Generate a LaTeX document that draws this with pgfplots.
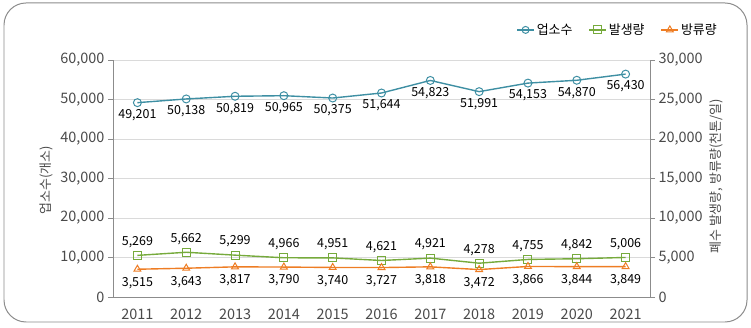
\documentclass[border=0pt]{standalone}
\usepackage{pgfplots}
\pgfplotsset{compat=1.18}
\usepackage{fontspec}
\setmainfont{Noto Sans CJK KR}
\definecolor{cA}{HTML}{3E8FA3}
\definecolor{cB}{HTML}{76AA3C}
\definecolor{cC}{HTML}{EE7D24}
\definecolor{tk}{HTML}{4A4A4A}
\definecolor{gl}{HTML}{DADADA}
\definecolor{ax}{HTML}{8C8C8C}
\pgfplotstableread{
x y
0 49201
1 50138
2 50819
3 50965
4 50375
5 51644
6 54823
7 51991
8 54153
9 54870
10 56430
}\shops
\pgfplotstableread{
x y
0 5269
1 5662
2 5299
3 4966
4 4951
5 4621
6 4921
7 4278
8 4755
9 4842
10 5006
}\gen
\pgfplotstableread{
x y
0 3515
1 3643
2 3817
3 3790
4 3740
5 3727
6 3818
7 3472
8 3866
9 3844
10 3849
}\dis
\pgfplotsset{
  common/.style={
    at={(113bp,31bp)}, anchor=south west,
    scale only axis, width=537bp, height=237bp,
    xmin=-0.5, xmax=10.5,
    /pgf/number format/assume math mode=true,
    /pgf/number format/1000 sep={,},
    tick align=outside, major tick length=5bp,
    every tick/.style={ax, line width=0.6pt},
    axis line style={ax, line width=0.8pt},
    tick label style={font=\fontsize{14.5}{16}\selectfont, text=tk},
    label style={font=\fontsize{13}{15}\selectfont, text=tk},
  },
  lbl/.style={nodes near coords, every node near coord/.append style={font=\fontsize{12.5}{14}\selectfont, text=black, /pgf/number format/1000 sep={,}}},
}
\begin{document}
\begin{tikzpicture}
\useasboundingbox (0,0) rectangle (751bp,328bp);
\draw[ax, line width=1pt, rounded corners=22bp] (4bp,6bp) rectangle (747bp,325bp);
\begin{axis}[common,
  ymin=0, ymax=60000, ytick={0,10000,...,60000},
  axis x line*=bottom, axis y line*=left,
  xtick={0,...,10}, xticklabels={2011,2012,2013,2014,2015,2016,2017,2018,2019,2020,2021},
  x tick style={draw=none},
  xticklabel style={yshift=-3bp},
  ymajorgrids, grid style={gl, line width=0.6pt},
  ylabel={업소수(개소)}, ylabel style={at={(ticklabel cs:0.5)}, xshift=-2bp},
  scaled y ticks=false,
]
\addplot[cA, line width=1.4pt, mark=o, mark size=4pt, mark options={fill=white, line width=1pt},
  lbl, nodes near coords align={below}, every node near coord/.append style={yshift=-3bp}] table[x=x,y=y] {\shops};
\end{axis}
\begin{axis}[common,
  ymin=0, ymax=30000, ytick={0,5000,...,30000},
  axis y line*=right, axis x line=none,
  scaled y ticks=false,
  ylabel={폐수 발생량, 방류량(천톤/일)}, ylabel style={at={(ticklabel cs:0.5)}, rotate=0, xshift=2bp},
  legend columns=3,
  legend style={draw=none, fill=none, at={(1.134,1.127)}, anchor=east, font=\fontsize{13}{15}\selectfont, /tikz/every even column/.append style={column sep=14bp}},
  legend cell align=left,
]
\addlegendimage{cA, line width=1.4pt, mark=o, mark size=3.5pt, mark options={fill=white, line width=1pt}}
\addlegendentry{업소수}
\addplot[cB, line width=1.4pt, mark=square, mark size=4pt, mark options={fill=white, line width=1pt},
  lbl, nodes near coords align={above}, every node near coord/.append style={yshift=4bp}] table[x=x,y=y] {\gen};
\addlegendentry{발생량}
\addplot[cC, line width=1.4pt, mark=triangle, mark size=4pt, mark options={fill=white, line width=1pt},
  lbl, nodes near coords align={below}, every node near coord/.append style={yshift=-4bp}] table[x=x,y=y] {\dis};
\addlegendentry{방류량}
\end{axis}
\end{tikzpicture}
\end{document}
